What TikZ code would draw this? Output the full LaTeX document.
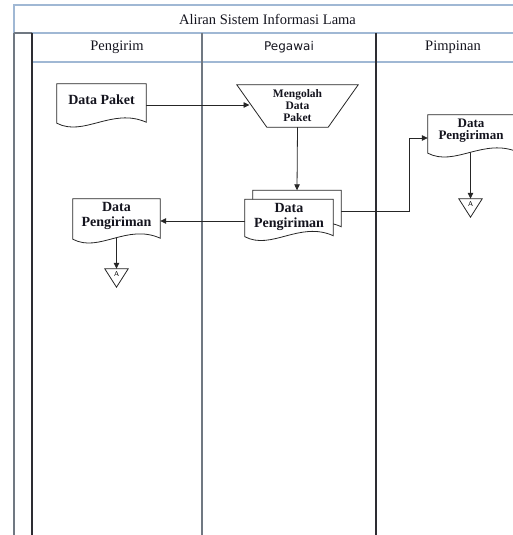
\documentclass[tikz,border=0pt]{standalone}
\usepackage{fontspec}
\setmainfont{Liberation Serif}
\newfontfamily\pegfont{DejaVu Sans}
\usetikzlibrary{arrows.meta,calc}
\pgfdeclarelayer{bg}
\pgfsetlayers{bg,main}
\definecolor{frameblue}{RGB}{160,184,212}
\definecolor{lanegray}{RGB}{112,120,130}
\definecolor{lanedark}{RGB}{45,45,50}
\definecolor{txt}{RGB}{20,20,30}
\tikzset{
  shp/.style={draw=black!85, line width=0.8pt, fill=white},
  body/.style={draw=none, inner sep=0pt, align=center, text=txt},
  docbig/.style={body, font=\bfseries\fontsize{14}{14.5}\selectfont},
  docsmall/.style={body, font=\bfseries\fontsize{13}{12}\selectfont},
  hdr/.style={inner sep=0pt, text=txt, font=\fontsize{14.5}{16}\selectfont},
  conn/.style={draw=black!85, line width=0.8pt},
  arr/.style={conn, -{Triangle[length=6pt,width=5.5pt]}},
  lane/.style={line width=1.1pt},
  tlabel/.style={inner sep=0pt, font=\sffamily\fontsize{7}{7}\selectfont}
}
\newcommand\docpath[3]{\draw[shp] ($(#1.north west)+(#2,#3)$) -- ($(#1.north east)+(#2,#3)$) -- ($(#1.south east)+(#2,#3+1)$) .. controls ($(#1.south east)!0.38!(#1.south west)+(#2,#3-14)$) and ($(#1.south east)!0.7!(#1.south west)+(#2,#3+16)$) .. ($(#1.south west)+(#2,#3+2)$) -- cycle;}
\newcommand\tripath[1]{\draw[shp] (#1.north west) -- (#1.north east) -- (#1.south) -- cycle;}
\begin{document}
\begin{tikzpicture}[x=1pt,y=-1pt]
\useasboundingbox (0,0) rectangle (513,535);
% lanes
\begin{pgfonlayer}{bg}
\draw[lane, frameblue] (14,33) -- (14,5) -- (520,5);
\draw[lane, frameblue] (32,33) -- (520,33);
\draw[lane, frameblue] (32,62) -- (520,62);
\draw[lane, lanegray] (14,33) -- (32,33);
\draw[lane, lanegray] (14,33) -- (14,540);
\draw[lane, lanedark] (32,33) -- (32,540);
\draw[lane, lanegray] (202,33) -- (202,540);
\draw[lane, lanedark] (376,33) -- (376,540);
\end{pgfonlayer}
% headers
\node[hdr] (title) at (267.5,19) {Aliran Sistem Informasi Lama};
\node[hdr] (h1) at (117,47.5) {Pengirim};
\node[hdr, font=\pegfont\fontsize{12}{14}\selectfont] (h2) at (289,47.5) {Pegawai};
\node[hdr] (h3) at (453,47.5) {Pimpinan};
% shapes
\node[body, minimum width=89pt, minimum height=37pt] (dp) at (101.5,102.5) {};
\docpath{dp}{0}{0}
\node[docbig] (dpt) at (101.5,100) {Data Paket};
\node[body, minimum width=121pt, minimum height=42pt] (m) at (297.5,106) {};
\draw[shp] (m.north west) -- (m.north east) -- ($(m.south east)+(-30,0)$) -- ($(m.south west)+(30,0)$) -- cycle;
\node[body, font=\bfseries\fontsize{11.5}{12}\selectfont] (mt) at (m) {Mengolah\\Data\\Paket};
\node[body, minimum width=88pt, minimum height=35pt] (mp) at (289,217) {};
\docpath{mp}{8}{-9}
\docpath{mp}{0}{0}
\node[docbig] (mpt) at (mp) {Data\\Pengiriman};
\node[body, minimum width=87pt, minimum height=38pt] (dpg1) at (116.5,218) {};
\docpath{dpg1}{0}{0}
\node[docbig] (dpg1t) at (116.5,216) {Data\\Pengiriman};
\node[body, minimum width=90pt, minimum height=36pt] (dpg2) at (473,133) {};
\docpath{dpg2}{0}{0}
\node[docsmall] (dpg2t) at (471,131) {Data\\Pengiriman};
\node[body, minimum width=23pt, minimum height=18pt] (ta1) at (116.5,278) {};
\tripath{ta1}
\node[tlabel] (ta1t) at (116.5,274) {A};
\node[body, minimum width=23pt, minimum height=18pt] (ta2) at (470.5,208) {};
\tripath{ta2}
\node[tlabel] (ta2t) at (470.5,204) {A};
% connectors
\coordinate (mleft) at (249.5,105);
\coordinate (mpback) at ($(mp.north)+(8,-9)$);
\coordinate (mpr) at ($(mp.east)+(8,-6)$);
\coordinate (dpg2in) at ($(dpg2.west)+(0,5)$);
\begin{pgfonlayer}{bg}
\draw[arr] (dp.east |- mleft) -- (mleft);
\draw[arr] (m.south) -- (mpback);
\draw[arr] ([yshift=-4pt]mp.west) -- ([yshift=-4pt]mp.west -| dpg1.east);
\draw[arr] (dpg1.south) -- (ta1.north);
\draw[arr] (mpr) -- ++(68,0) |- (dpg2in);
\draw[arr] (ta2.north |- dpg2.south) -- (ta2.north);
\end{pgfonlayer}
\end{tikzpicture}
\end{document}
